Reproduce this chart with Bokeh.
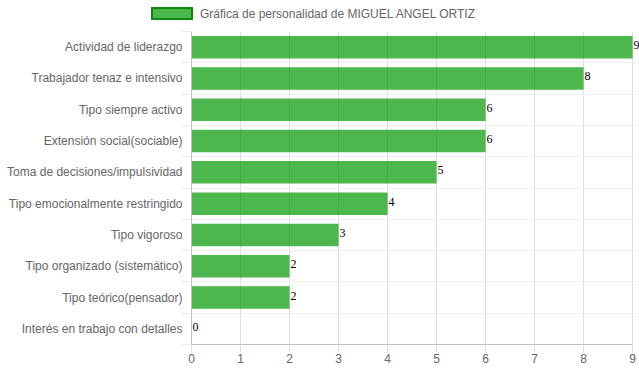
from bokeh.plotting import figure
from bokeh.layouts import column
from bokeh.models import Range1d, FixedTicker, ColumnDataSource, LabelSet, Div
from bokeh.embed import file_html
from bokeh.resources import INLINE

categories = [
    "Actividad de liderazgo",
    "Trabajador tenaz e intensivo",
    "Tipo siempre activo",
    "Extensión social(sociable)",
    "Toma de decisiones/impulsividad",
    "Tipo emocionalmente restringido",
    "Tipo vigoroso",
    "Tipo organizado (sistemático)",
    "Tipo teórico(pensador)",
    "Interés en trabajo con detalles",
]
values = [9, 8, 6, 6, 5, 4, 3, 2, 2, 0]
x_ticks = [0, 1, 2, 3, 4, 5, 6, 7, 8, 9]
series_name = "Gráfica de personalidad de MIGUEL ANGEL ORTIZ"

n = len(categories)
centers = [i + 0.5 for i in range(n)]
bounds = list(range(n + 1))

FONT = "Liberation Sans"
TXT = "#666666"
BAR = "rgba(0,153,0,0.7)"

# ---- legend strip (HTML) ----
legend_html = (
    '<div style="position:relative;width:639px;height:31px;'
    'font-family:\'Liberation Sans\';font-size:12px;color:#666666;">'
    '<span style="position:absolute;left:151px;top:7px;width:42px;height:13px;'
    'box-sizing:border-box;border:2px solid #118811;background:' + BAR + ';"></span>'
    '<span style="position:absolute;left:200px;top:7px;white-space:nowrap;line-height:14px;">'
    + series_name + '</span></div>'
)
lg = Div(text=legend_html, width=639, height=31, margin=0)

# ---- main chart ----
p = figure(width=639, height=341, output_backend="svg", toolbar_location=None,
           x_range=Range1d(0, 9.1429), y_range=Range1d(n, 0),
           min_border_left=191, min_border_right=0, min_border_top=0, min_border_bottom=28,
           margin=0)
p.outline_line_color = None
p.background_fill_color = "white"

src = ColumnDataSource(dict(y=centers, right=values, lab=[str(v) for v in values]))
p.hbar(y="y", right="right", left=0, height=0.72, source=src,
       fill_color=BAR, line_color=None)

labels = LabelSet(x="right", y="y", text="lab", source=src, x_offset=1,
                  text_baseline="middle", text_font="Liberation Serif",
                  text_font_size="12px", text_color="black", y_offset=2)
p.add_layout(labels)

xa = p.xaxis[0]
xa.ticker = FixedTicker(ticks=x_ticks)
xa.bounds = (0, 9)
xa.axis_line_color = "#bfbfbf"
xa.major_tick_out = 8
xa.major_tick_in = 0
xa.major_tick_line_color = "#dddddd"
xa.minor_tick_line_color = None
xa.major_label_text_font = FONT
xa.major_label_text_font_size = "12px"
xa.major_label_text_color = TXT
xa.major_label_standoff = 1

ya = p.yaxis[0]
ya.ticker = FixedTicker(ticks=centers, minor_ticks=bounds)
ya.major_label_overrides = {c: lab for c, lab in zip(centers, categories)}
ya.axis_line_color = "#bfbfbf"
ya.major_tick_out = 0
ya.major_tick_in = 0
ya.minor_tick_out = 10
ya.minor_tick_in = 0
ya.minor_tick_line_color = "#ebebeb"
ya.major_label_standoff = -1
ya.major_label_text_font = FONT
ya.major_label_text_font_size = "12px"
ya.major_label_text_color = TXT

p.xgrid.ticker = FixedTicker(ticks=x_ticks)
p.xgrid.grid_line_color = "#dddddd"
p.ygrid.ticker = FixedTicker(ticks=bounds)
p.ygrid.grid_line_color = "#efefef"
p.ygrid.bounds = (0, 9)

layout = column(lg, p, spacing=0)
open("out.html", "w").write(file_html(layout, INLINE))
